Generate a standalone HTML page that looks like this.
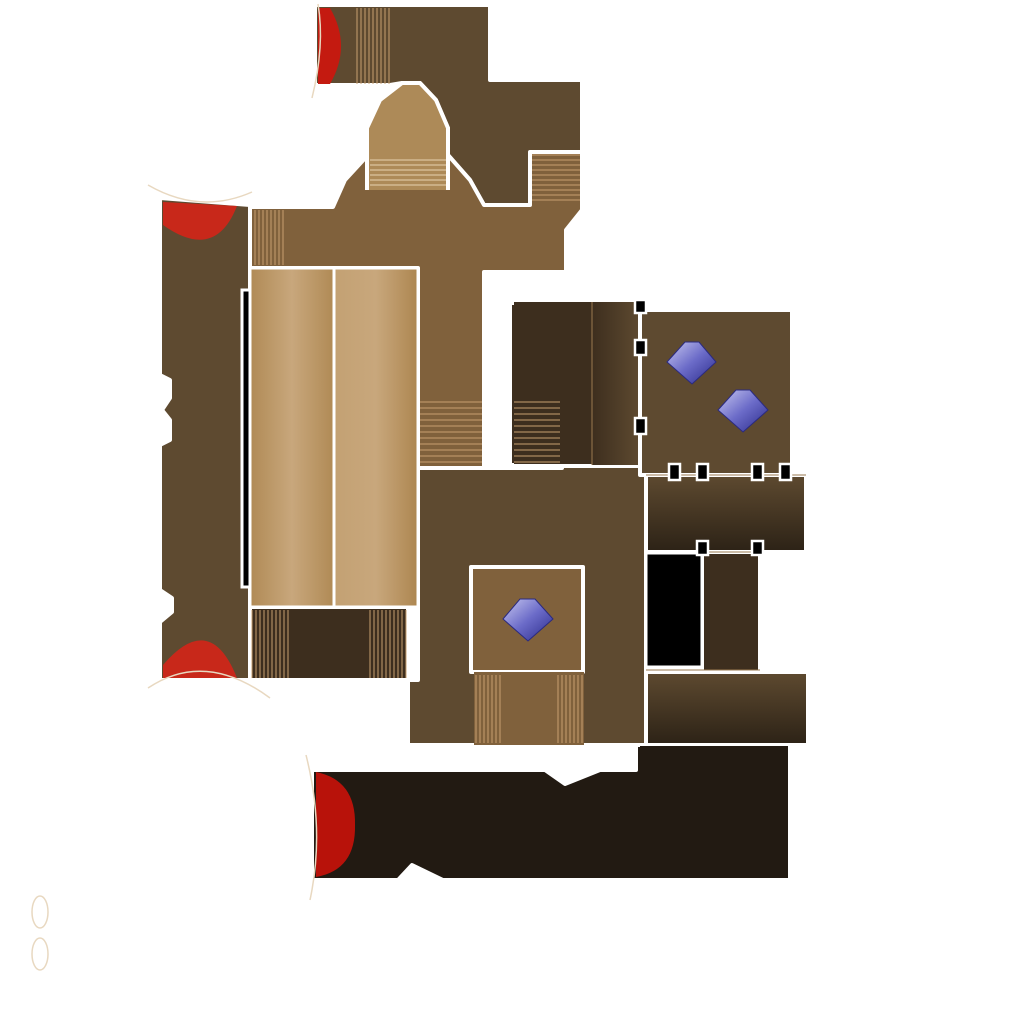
<!DOCTYPE html>
<html><head><style>html,body{margin:0;padding:0;background:#fff;width:1024px;height:1024px;overflow:hidden}</style></head>
<body>
<svg width="1024" height="1024" viewBox="0 0 1024 1024" xmlns="http://www.w3.org/2000/svg">
<defs>
<linearGradient id="bed" x1="0" x2="1"><stop offset="0" stop-color="#b08a55"/><stop offset="0.5" stop-color="#c8a77c"/><stop offset="1" stop-color="#b08a55"/></linearGradient>
<linearGradient id="bed2" x1="0" x2="1"><stop offset="0" stop-color="#c3a173"/><stop offset="0.5" stop-color="#c8a77c"/><stop offset="1" stop-color="#ad8650"/></linearGradient>
<linearGradient id="corr" x1="0" y1="0" x2="0" y2="1"><stop offset="0" stop-color="#5e4a30"/><stop offset="1" stop-color="#2c2216"/></linearGradient>
<linearGradient id="strip" x1="0" x2="1"><stop offset="0" stop-color="#3d2e1e"/><stop offset="1" stop-color="#5e4a30"/></linearGradient>
<linearGradient id="gem" x1="0" y1="0" x2="1" y2="1"><stop offset="0" stop-color="#c8c8f0"/><stop offset="0.5" stop-color="#6b6bc8"/><stop offset="1" stop-color="#2a2a8a"/></linearGradient>
</defs>
<g stroke="#fff" stroke-width="4" stroke-linejoin="round">
<!-- top room -->
<polygon points="315,5 490,5 490,80 582,80 582,205 484,205 470,180 448,155 448,128 436,100 420,83 402,83 390,85 315,85" fill="#5e4a30"/>
<!-- main corridor -->
<polygon points="160,200 250,207 333,207 345,180 368,155 448,155 470,180 484,205 530,205 530,152 582,152 582,210 566,230 566,272 484,272 484,468 418,468 418,268 250,268" fill="#80613c"/>
<!-- left room -->
<polygon points="160,198 250,205 250,680 160,680 160,622 172,612 172,598 160,590 160,445 170,440 170,420 162,410 170,398 170,380 160,375" fill="#5e4a30"/>
<rect x="250" y="607" width="158" height="73" fill="#3d2e1e"/>
<!-- lower middle -->
<polygon points="408,468 562,468 562,465 646,465 646,745 408,745 408,680 418,680 418,468" fill="#5e4a30"/>
<!-- right dark room -->
<rect x="512" y="300" width="130" height="166" fill="#3d2e1e"/>
<rect x="592" y="302" width="48" height="163" fill="url(#strip)" stroke="none"/>
<rect x="640" y="310" width="152" height="165" fill="#5e4a30"/>
<rect x="646" y="475" width="160" height="77" fill="url(#corr)"/>
<rect x="702" y="552" width="58" height="120" fill="#3d2e1e"/>
<rect x="646" y="672" width="162" height="73" fill="url(#corr)"/>
<!-- bottom room -->
<polygon points="312,770 545,770 565,784 600,770 636,770 636,745 790,745 790,880 443,880 412,865 398,880 312,880" fill="#221a12"/>
<!-- small room -->
<rect x="471" y="567" width="112" height="105" fill="#80613c"/>
<rect x="474" y="672" width="110" height="73" fill="#80613c" stroke="none"/>
<!-- dome -->
<path d="M367,190 L367,128 L380,100 L402,83 L420,83 L436,100 L448,128 L448,190" fill="#ad8a58"/>
</g>
<!-- seam covers -->
<rect x="486" y="84" width="94" height="66" fill="#5e4a30"/>
<rect x="512" y="305" width="80" height="158" fill="#3d2e1e"/>
<rect x="640" y="746" width="148" height="30" fill="#221a12"/>
<!-- black -->
<rect x="646" y="553" width="56" height="114" fill="#000" stroke="#fff" stroke-width="3"/>
<rect x="242" y="290" width="14" height="297" fill="#000" stroke="#fff" stroke-width="3"/>
<!-- bed -->
<rect x="250" y="268" width="84" height="339" fill="url(#bed)" stroke="#fff" stroke-width="3"/>
<rect x="334" y="268" width="84" height="339" fill="url(#bed2)" stroke="#fff" stroke-width="3"/>
<!-- red semicircles -->
<path d="M318,8 L330,8 Q352,46 330,84 L318,84 Z" fill="#c41a10"/>
<path d="M163,202 L237,206 Q215,262 163,225 Z" fill="#c8281a"/>
<path d="M163,678 L237,678 Q210,610 163,665 Z" fill="#c8281a"/>
<path d="M316,772 Q356,780 355,825 Q356,870 316,877 Z" fill="#b8120a"/>
<!-- stairs -->
<g stroke="#c8a070" stroke-width="1">
<path d="M357,8V84M361,8V84M365,8V84M369,8V84M373,8V84M377,8V84M381,8V84M385,8V84M389,8V84"/>
<path d="M532,155H580M532,160H580M532,165H580M532,170H580M532,175H580M532,180H580M532,185H580M532,190H580M532,195H580M532,200H580"/>
<path d="M370,160H446M370,165H446M370,170H446M370,175H446M370,180H446M370,185H446" stroke="#e8d2b0"/>
<path d="M255,210V265M259,210V265M263,210V265M267,210V265M271,210V265M275,210V265M279,210V265M283,210V265"/>
<path d="M420,402H482M420,408H482M420,414H482M420,420H482M420,426H482M420,432H482M420,438H482M420,444H482M420,450H482M420,456H482M420,462H482"/>
<path d="M514,402H560M514,408H560M514,414H560M514,420H560M514,426H560M514,432H560M514,438H560M514,444H560M514,450H560M514,456H560M514,462H560"/>
<path d="M252,610V678M256,610V678M260,610V678M264,610V678M268,610V678M272,610V678M276,610V678M280,610V678M284,610V678M288,610V678"/>
<path d="M370,610V678M374,610V678M378,610V678M382,610V678M386,610V678M390,610V678M394,610V678M398,610V678M402,610V678M406,610V678"/>
<path d="M476,675V743M480,675V743M484,675V743M488,675V743M492,675V743M496,675V743M500,675V743"/>
<path d="M558,675V743M562,675V743M566,675V743M570,675V743M574,675V743M578,675V743M582,675V743"/>
<path d="M646,475H806M702,552H760M646,670H760M592,302V465" stroke="#9a7a50"/>
</g>
<!-- pillars -->
<g fill="#000" stroke="#fff" stroke-width="2.5">
<rect x="635" y="300" width="11" height="13"/><rect x="635" y="340" width="11" height="15"/><rect x="635" y="418" width="11" height="16"/>
<rect x="669" y="464" width="11" height="16"/><rect x="697" y="464" width="11" height="16"/><rect x="752" y="464" width="11" height="16"/><rect x="780" y="464" width="11" height="16"/>
<rect x="697" y="541" width="11" height="14"/><rect x="752" y="541" width="11" height="14"/>
</g>
<!-- gems -->
<g stroke="#2a2a80" stroke-width="1">
<polygon points="667,362 685,342 699,342 716,362 692,384" fill="url(#gem)"/>
<polygon points="718,410 736,390 750,390 768,410 743,432" fill="url(#gem)"/>
<polygon points="503,619 520,599 535,599 553,619 528,641" fill="url(#gem)"/>
</g>
<g fill="none" stroke="#e8d8c0" stroke-width="1.5">
<path d="M148,185 Q200,215 252,192"/><path d="M148,688 Q205,650 270,698"/>
<path d="M318,4 Q325,45 312,98"/><path d="M306,755 Q325,830 310,900"/>
<ellipse cx="40" cy="912" rx="8" ry="16"/><ellipse cx="40" cy="954" rx="8" ry="16"/>
</g>
</svg>
</body></html>
